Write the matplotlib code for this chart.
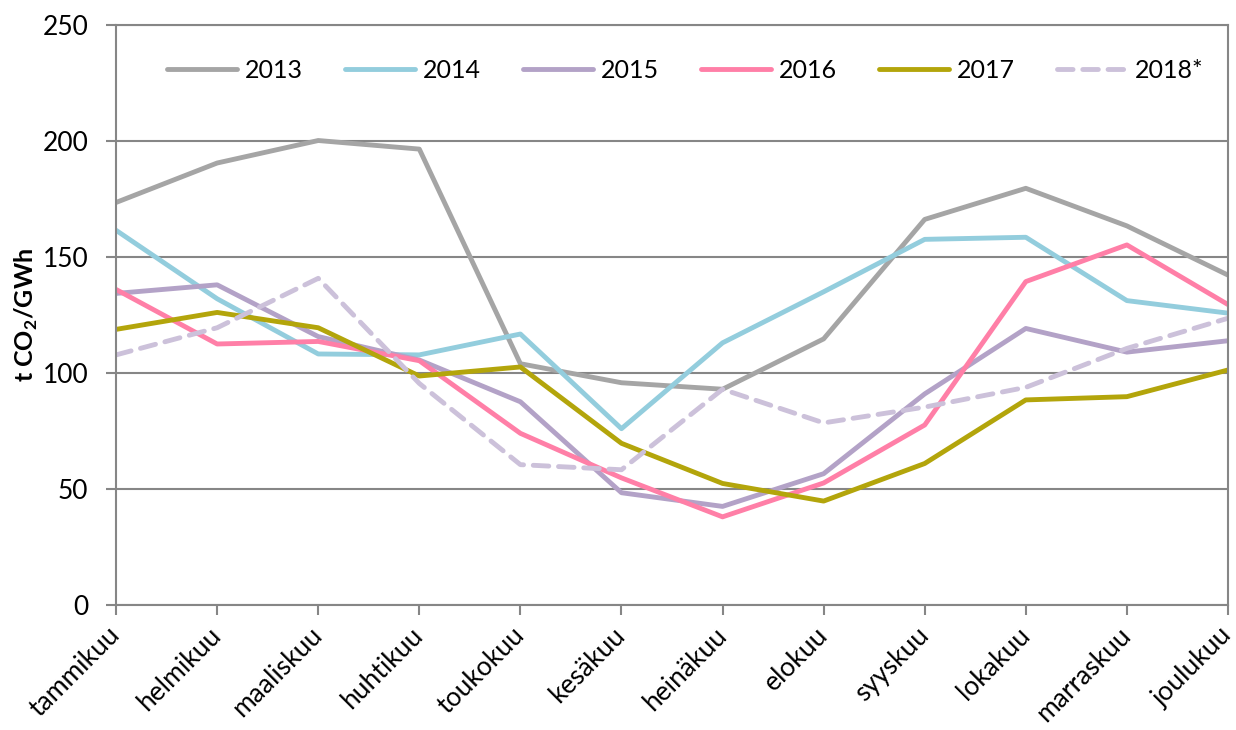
import matplotlib
matplotlib.use('Agg')
import matplotlib.pyplot as plt

plt.rcParams['font.family'] = ['Lato', 'DejaVu Sans']
plt.rcParams['mathtext.fontset'] = 'custom'
plt.rcParams['mathtext.rm'] = 'Lato'
plt.rcParams['mathtext.bf'] = 'Lato:bold'

# kuukaudet
months = ['tammikuu', 'helmikuu', 'maaliskuu', 'huhtikuu', 'toukokuu', 'kesäkuu',
          'heinäkuu', 'elokuu', 'syyskuu', 'lokakuu', 'marraskuu', 'joulukuu']

# t CO2/GWh vuosittain
v2013 = [173.5, 190.5, 200.2, 196.5, 104.0, 95.8, 93.0, 114.7, 166.2, 179.6, 163.4, 142.2]
v2014 = [161.5, 132.0, 108.2, 107.8, 116.8, 76.0, 113.0, 135.0, 157.6, 158.5, 131.2, 125.8]
v2015 = [134.3, 138.0, 115.7, 105.6, 87.6, 48.4, 42.5, 56.6, 91.0, 119.2, 109.0, 113.9]
v2016 = [136.0, 112.5, 113.6, 105.3, 74.0, 54.8, 38.0, 52.6, 77.6, 139.4, 155.2, 129.5]
v2017 = [118.8, 126.1, 119.5, 98.7, 102.6, 69.7, 52.4, 44.8, 61.0, 88.4, 89.8, 101.3]
v2018 = [107.8, 119.5, 140.8, 95.5, 60.5, 58.3, 93.0, 78.5, 85.3, 93.8, 110.6, 123.6]

years = ['2013', '2014', '2015', '2016', '2017', '2018*']
series = [v2013, v2014, v2015, v2016, v2017, v2018]
colors = ['#A5A5A5', '#93CDDD', '#B3A2C7', '#FF7FA7', '#B3A50B', '#CCC1DA']
styles = ['-', '-', '-', '-', '-', '--']

fig = plt.figure(figsize=(12.36, 7.3), dpi=100)
ax = fig.add_axes([0.0939, 0.1712, 0.8996, 0.7946])

x = range(len(months))
for vals, lab, c, ls in zip(series, years, colors, styles):
    ax.plot(x, vals, ls, color=c, lw=3.5, label=lab, solid_capstyle='round',
            dash_capstyle='round', dashes=(3.2, 2.0) if ls == '--' else (None, None))

ax.set_xlim(0, 11)
ax.set_ylim(0, 250)
ax.set_yticks([0, 50, 100, 150, 200, 250])
ax.set_xticks(list(x))
ax.set_xticklabels(months, rotation=45, ha='right', va='center', rotation_mode='anchor')
ax.tick_params(axis='both', labelsize=19, color='#868686', width=1.5, length=7, direction='out')
ax.tick_params(axis='x', pad=12)
ax.tick_params(axis='y', pad=13)
ax.grid(axis='y', color='#868686', lw=1.5)
ax.set_axisbelow(True)
for s in ax.spines.values():
    s.set_color('#868686')
    s.set_linewidth(1.5)

ax.set_ylabel(r't CO$_\mathbf{2}$/GWh', fontsize=18, fontweight='bold', labelpad=2)

ax.legend(loc='center', bbox_to_anchor=(0.512, 0.922), ncol=6, frameon=False,
          fontsize=18, handlelength=2.8, columnspacing=1.7, handletextpad=0.3)

fig.savefig('out.png', dpi=100)
